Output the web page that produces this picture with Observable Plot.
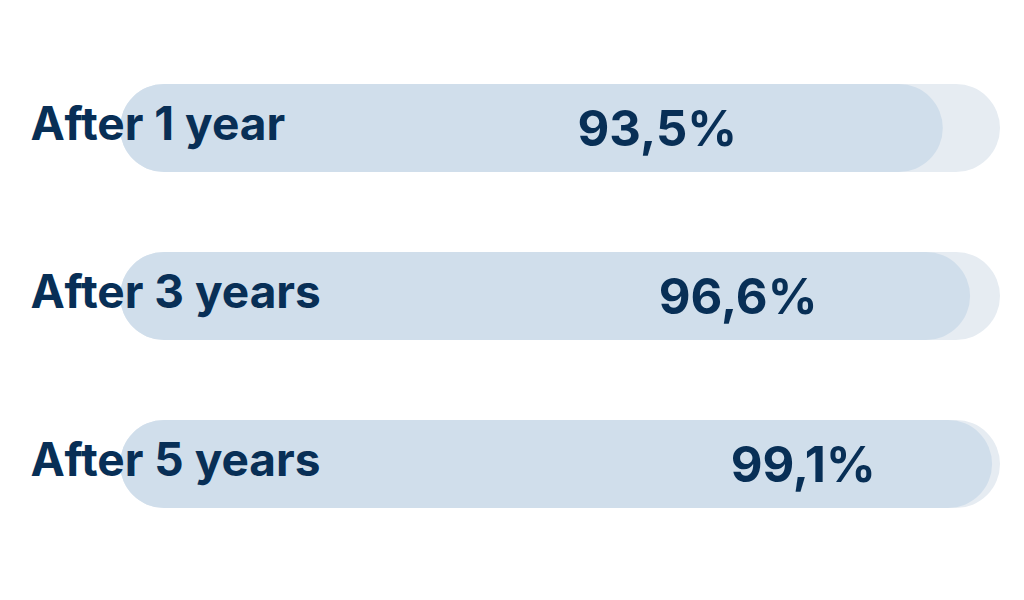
<!DOCTYPE html>
<html>
<head>
<meta charset="utf-8">
<script src="https://cdn.jsdelivr.net/npm/d3@7"></script>
<script src="https://cdn.jsdelivr.net/npm/@observablehq/plot@0.6"></script>
<style>
  html, body { margin: 0; padding: 0; background: #ffffff; }
  #chart { width: 1024px; height: 600px; }
</style>
</head>
<body>
<div id="chart"></div>
<script>
const categories = ["After 1 year", "After 3 years", "After 5 years"];
const values = [93.5, 96.6, 99.1];
const valueLabels = ["93,5%", "96,6%", "99,1%"];
const maxValue = 100;

const data = categories.map((c, i) => ({label: c, value: values[i], text: valueLabels[i]}));

const fg = "#d0deeb";
const bg = "#e6ecf2";
const ink = "#082f56";
const font = "Inter, 'DejaVu Sans', sans-serif";

const chart = Plot.plot({
  width: 1024,
  height: 600,
  marginLeft: 120,
  marginRight: 24,
  marginTop: 40,
  marginBottom: 48,
  style: {fontFamily: font, background: "#ffffff"},
  x: {domain: [0, maxValue], axis: null},
  y: {domain: categories, axis: null, paddingInner: 0.479, paddingOuter: 0.263},
  marks: [
    Plot.barX(data, {y: "label", x1: 0, x2: () => maxValue, fill: bg, rx: 44}),
    Plot.barX(data, {y: "label", x1: 0, x2: "value", fill: fg, rx: 44}),
    Plot.text(data, {
      y: "label", text: "label", frameAnchor: "left", textAnchor: "start",
      dx: -90, dy: -3, fill: ink, fontSize: 46, fontWeight: 700,
      letterSpacing: "0.8px"
    }),
    Plot.text(data, {
      y: "label", x: d => 61 + 2.96 * (d.value - 93.5), text: "text",
      textAnchor: "middle", dy: 2, fill: ink, fontSize: 49, fontWeight: 700,
      letterSpacing: "-2px"
    })
  ]
});
document.getElementById("chart").appendChild(chart);
</script>
</body>
</html>
